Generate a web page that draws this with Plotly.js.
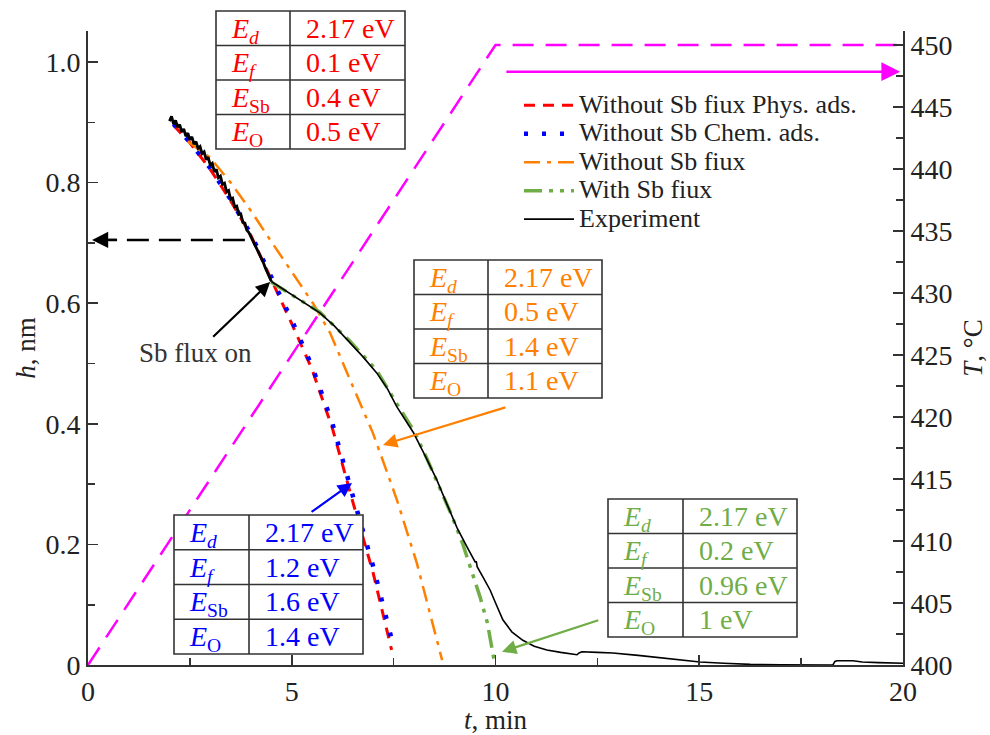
<!DOCTYPE html>
<html>
<head>
<meta charset="utf-8">
<script src="https://cdn.plot.ly/plotly-3.0.1.min.js"></script>
<style>html,body{margin:0;padding:0;background:#fff;}#chart{width:990px;height:735px;}</style>
</head>
<body>
<div id="chart"></div>
<script>
// ---------------- DATA ----------------
// Experiment, noisy early part (t < 4.5 min)
const expEarlyT = [2.00,2.05,2.10,2.15,2.20,2.25,2.30,2.35,2.40,2.45,2.50,2.55,2.60,2.65,2.70,2.75,2.80,2.85,2.90,2.95,3.00,3.05,3.10,3.15,3.20,3.25,3.30,3.35,3.40,3.45,3.50,3.55,3.60,3.65,3.70,3.75,3.80,3.85,3.90,3.95,4.00,4.05,4.10,4.15,4.20,4.25,4.30,4.35,4.40,4.45,4.50];
const expEarlyH = [0.902,0.910,0.897,0.903,0.892,0.896,0.884,0.889,0.877,0.882,0.871,0.876,0.864,0.868,0.857,0.860,0.848,0.851,0.838,0.842,0.829,0.832,0.818,0.822,0.808,0.811,0.797,0.799,0.785,0.787,0.772,0.774,0.760,0.761,0.747,0.748,0.734,0.733,0.721,0.717,0.710,0.703,0.697,0.689,0.684,0.675,0.668,0.659,0.652,0.643,0.636];
// Experiment, after Sb flux on
const expT = [4.50,4.75,5.03,5.35,5.69,6.05,6.43,6.75,7.09,7.35,7.58,7.98,8.25,8.56,8.80,9.06,9.30,9.50,9.53,9.55,9.70,9.87,10.02,10.18,10.40,10.67,10.95,11.26,11.60,12.00,12.05,12.12,12.50,12.88,13.50,14.11,14.55,15.02,15.60,16.25,17.00,18.28,18.33,18.38,18.77,19.00,19.40,19.93,20.00];
const expH = [0.636,0.625,0.614,0.600,0.584,0.562,0.534,0.511,0.484,0.458,0.428,0.386,0.350,0.307,0.268,0.227,0.196,0.171,0.171,0.163,0.145,0.124,0.100,0.075,0.055,0.041,0.031,0.025,0.021,0.017,0.020,0.022,0.021,0.020,0.016,0.012,0.009,0.005,0.003,0.001,0.0005,0.000,0.006,0.007,0.007,0.005,0.004,0.003,0.003];
// Without Sb flux, physical adsorption
const physT = [2.1,2.5,3.0,3.5,4.0,4.5,5.0,5.5,6.0,6.5,7.0,7.45];
const physH = [0.895,0.866,0.822,0.770,0.712,0.640,0.566,0.490,0.392,0.270,0.152,0.025];
// Without Sb flux, chemical adsorption
const chemT = [2.1,2.5,3.0,3.5,4.0,4.5,5.0,5.5,6.0,6.5,7.0,7.5];
const chemH = [0.897,0.867,0.824,0.772,0.714,0.643,0.572,0.495,0.400,0.280,0.163,0.030];
// Without Sb flux
const noSbT = [2.45,2.99,3.5,3.98,4.4,4.79,5.2,5.52,5.94,6.43,6.99,7.3,7.58,8.07,8.39,8.69];
const noSbH = [0.868,0.842,0.800,0.755,0.712,0.672,0.632,0.600,0.551,0.473,0.385,0.327,0.274,0.169,0.086,0.008];
// With Sb flux
const withSbT = [4.49,5.03,5.69,6.43,7.09,7.58,8.0,8.3,8.6,8.9,9.2,9.45,9.62,9.8,9.96];
const withSbH = [0.635,0.613,0.585,0.537,0.488,0.433,0.388,0.345,0.300,0.252,0.200,0.150,0.113,0.070,0.010];
// Temperature programme
const tempT = [0, 10, 20];
const tempC = [400, 450, 450];

// Legend names
const seriesNames = ['Without Sb fiux Phys. ads.', 'Without Sb Chem. ads.', 'Without Sb fiux', 'With Sb fiux', 'Experiment'];

// Parameter tables
const paramLabels = ['<i>E</i><sub><i>d</i></sub>', '<i>E</i><sub><i>f</i></sub>', '<i>E</i><sub>Sb</sub>', '<i>E</i><sub>O</sub>'];
const physVals = ['2.17 eV', '0.1 eV', '0.4 eV', '0.5 eV'];
const chemVals = ['2.17 eV', '1.2 eV', '1.6 eV', '1.4 eV'];
const noSbVals = ['2.17 eV', '0.5 eV', '1.4 eV', '1.1 eV'];
const withSbVals = ['2.17 eV', '0.2 eV', '0.96 eV', '1 eV'];

// Axis ticks
const hTicks = [0, 0.2, 0.4, 0.6, 0.8, 1.0];
const hTickText = ['0', '0.2', '0.4', '0.6', '0.8', '1.0'];

// ---------------- STYLE / LAYOUT ----------------
const FONT = 'Liberation Serif, Times New Roman, serif';
const RED = '#ff0000', BLUE = '#0000ff', ORANGE = '#ff8000', GREEN = '#70ad47', MAGENTA = '#ff00ff';
const AX = '#333333';
const FS = 28;
const M = {l: 88, r: 87, t: 31, b: 70};
const W = 990, H = 735;
const PL = M.l, PR = W - M.r, PT = M.t, PB = H - M.b;
const px = x => (x - PL) / (PR - PL);
const py = y => (PB - y) / (PB - PT);
const legName = s => '<span style="font-size:26px">' + s + '</span>';

const traces = [
  {x: physT, y: physH, mode: 'lines', name: legName(seriesNames[0]), line: {color: RED, width: 3, dash: '11px,8px'}},
  {x: chemT, y: chemH, mode: 'lines', name: legName(seriesNames[1]), line: {color: BLUE, width: 4.5, dash: '4px,14px'}},
  {x: noSbT, y: noSbH, mode: 'lines', name: legName(seriesNames[2]), line: {color: ORANGE, width: 2.5, dash: '16px,7px,4px,7px'}},
  {x: withSbT, y: withSbH, mode: 'lines', name: legName(seriesNames[3]), line: {color: GREEN, width: 3.5, dash: '18px,7px,4px,7px,4px,7px'}},
  {x: expT, y: expH, mode: 'lines', name: legName(seriesNames[4]), line: {color: '#000', width: 1.6}},
  {x: expEarlyT, y: expEarlyH, mode: 'lines', name: seriesNames[4], showlegend: false, line: {color: '#000', width: 2.8}},
  {x: tempT, y: tempC, yaxis: 'y2', mode: 'lines', name: 'T', showlegend: false, line: {color: MAGENTA, width: 2.5, dash: '21px,12px'}}
];

const tables = [
  {vals: physVals, color: RED, left: 216, col: 290, right: 405, top: 11, bottom: 149},
  {vals: noSbVals, color: ORANGE, left: 414, col: 488, right: 602, top: 260, bottom: 398},
  {vals: chemVals, color: BLUE, left: 174, col: 249, right: 363, top: 515, bottom: 654},
  {vals: withSbVals, color: GREEN, left: 608, col: 683, right: 797, top: 499, bottom: 637}
];

const shapes = [];
const annotations = [];
tables.forEach(tb => {
  const ln = {color: '#333', width: 1.6};
  shapes.push({type: 'rect', xref: 'paper', yref: 'paper', x0: px(tb.left), x1: px(tb.right), y0: py(tb.bottom), y1: py(tb.top), line: ln, fillcolor: '#fff', layer: 'above'});
  shapes.push({type: 'line', xref: 'paper', yref: 'paper', x0: px(tb.col), x1: px(tb.col), y0: py(tb.bottom), y1: py(tb.top), line: ln, layer: 'above'});
  const rh = (tb.bottom - tb.top) / 4;
  for (let i = 1; i < 4; i++) {
    const yy = tb.top + i * rh;
    shapes.push({type: 'line', xref: 'paper', yref: 'paper', x0: px(tb.left), x1: px(tb.right), y0: py(yy), y1: py(yy), line: ln, layer: 'above'});
  }
  for (let i = 0; i < 4; i++) {
    const yc = tb.top + (i + 0.5) * rh;
    annotations.push({xref: 'paper', yref: 'paper', x: px(tb.left + 13), y: py(yc + 2), xanchor: 'left', yanchor: 'middle', showarrow: false, text: paramLabels[i], font: {family: FONT, size: FS, color: tb.color}});
    annotations.push({xref: 'paper', yref: 'paper', x: px(tb.col + 14), y: py(yc), xanchor: 'left', yanchor: 'middle', showarrow: false, text: tb.vals[i], font: {family: FONT, size: FS, color: tb.color}});
  }
});

// black dashed guide to left axis
shapes.push({type: 'line', xref: 'x', yref: 'y', x0: 3.85, x1: 0.5, y0: 0.705, y1: 0.705, line: {color: '#000', width: 2.5, dash: '22px,10px'}});
annotations.push({xref: 'x', yref: 'y', axref: 'x', ayref: 'y', x: 0.1, y: 0.705, ax: 0.75, ay: 0.705, text: '', showarrow: true, arrowhead: 2, arrowsize: 1.4, arrowwidth: 2.3, arrowcolor: '#000'});
// magenta arrow to right axis
annotations.push({xref: 'x', yref: 'y2', axref: 'x', ayref: 'y2', x: 19.93, y: 447.85, ax: 10.23, ay: 447.85, text: '', showarrow: true, arrowhead: 2, arrowsize: 1.5, arrowwidth: 2.5, arrowcolor: MAGENTA});
// Sb flux on (text at arrow tail)
annotations.push({xref: 'x', yref: 'y', axref: 'x', ayref: 'y', x: 4.47, y: 0.635, ax: 2.65, ay: 0.517, text: 'Sb flux on', showarrow: true, arrowhead: 2, arrowsize: 1.3, arrowwidth: 2.2, arrowcolor: '#000', standoff: 0, font: {family: FONT, size: 27, color: '#333'}});
// coloured table arrows
annotations.push({xref: 'x', yref: 'y', axref: 'x', ayref: 'y', x: 7.24, y: 0.365, ax: 10.28, ay: 0.428, text: '', showarrow: true, arrowhead: 2, arrowsize: 1.3, arrowwidth: 2.2, arrowcolor: ORANGE});
annotations.push({xref: 'x', yref: 'y', axref: 'x', ayref: 'y', x: 6.48, y: 0.302, ax: 5.45, ay: 0.252, text: '', showarrow: true, arrowhead: 2, arrowsize: 1.3, arrowwidth: 2.2, arrowcolor: BLUE});
annotations.push({xref: 'x', yref: 'y', axref: 'x', ayref: 'y', x: 10.16, y: 0.022, ax: 12.56, ay: 0.075, text: '', showarrow: true, arrowhead: 2, arrowsize: 1.3, arrowwidth: 2.2, arrowcolor: GREEN});

const hTop = (PB - PT) / 603;          // h range top (603 px per nm)
const tTop = 400 + (PB - PT) / 12.4;   // T range top (12.4 px per degC)

const axisCommon = {
  showgrid: false, zeroline: false, showline: true, linecolor: AX, linewidth: 2,
  ticks: 'inside', ticklen: 10, tickwidth: 1.6, tickcolor: AX,
  tickfont: {family: FONT, size: FS, color: '#222'}
};

const layout = {
  width: W, height: H,
  margin: M,
  paper_bgcolor: '#fff', plot_bgcolor: '#fff',
  font: {family: FONT, color: '#222'},
  showlegend: true,
  hovermode: false,
  legend: {x: px(519), y: py(86), xanchor: 'left', yanchor: 'top', bgcolor: 'rgba(0,0,0,0)', borderwidth: 0,
           font: {family: FONT, size: 19.6, color: '#222'}, itemwidth: 50, tracegroupgap: 0},
  xaxis: Object.assign({}, axisCommon, {
    range: [0, 20], tickmode: 'linear', tick0: 0, dtick: 5,
    minor: {dtick: 2.5, ticks: 'inside', ticklen: 7, tickwidth: 1.6, tickcolor: AX, showgrid: false},
    title: {text: '<i>t</i>, min', font: {family: FONT, size: 27, color: '#222'}, standoff: 0}
  }),
  yaxis: Object.assign({}, axisCommon, {
    range: [0, hTop], tickmode: 'array', tickvals: hTicks, ticktext: hTickText,
    minor: {tickmode: 'linear', tick0: 0, dtick: 0.1, ticks: 'inside', ticklen: 7, tickwidth: 1.6, tickcolor: AX, showgrid: false},
    title: {text: '<i>h</i>, nm', font: {family: FONT, size: 27, color: '#222'}, standoff: 2}
  }),
  yaxis2: Object.assign({}, axisCommon, {
    range: [400, tTop], overlaying: 'y', side: 'right', tickmode: 'linear', tick0: 400, dtick: 5,
    minor: {dtick: 2.5, ticks: 'inside', ticklen: 7, tickwidth: 1.6, tickcolor: AX, showgrid: false},
    title: {text: '<i>T</i>, °C', font: {family: FONT, size: 27, color: '#222'}, standoff: 12}
  }),
  shapes: shapes,
  annotations: annotations
};

Plotly.newPlot('chart', traces, layout, {displayModeBar: false, staticPlot: true});
</script>
</body>
</html>
